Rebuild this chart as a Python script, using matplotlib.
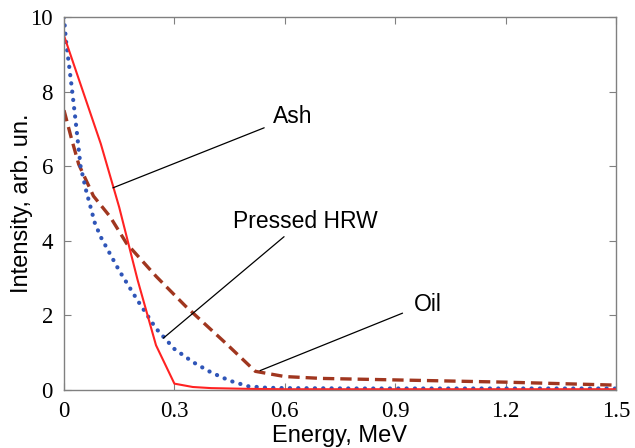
import matplotlib
matplotlib.use('Agg')
import matplotlib.pyplot as plt

plt.rcParams['font.family'] = ['Liberation Serif', 'DejaVu Serif']

# Energy grid (MeV) and intensities
ash_x = [0, 0.05, 0.1, 0.15, 0.2, 0.25, 0.3, 0.35, 0.4, 0.45, 0.5, 0.6, 0.8, 1.0, 1.2, 1.5]
ash_y = [9.5, 8.05, 6.6, 4.9, 2.95, 1.2, 0.17, 0.08, 0.05, 0.04, 0.03, 0.02, 0.02, 0.02, 0.02, 0.02]

hrw_x = [0, 0.005, 0.01, 0.02, 0.03, 0.045, 0.06, 0.084, 0.1, 0.15, 0.2, 0.25, 0.3,
         0.35, 0.4, 0.45, 0.5, 0.55, 0.6, 0.8, 1.0, 1.2, 1.5]
hrw_y = [10, 9.4, 9.0, 8.2, 7.35, 6.0, 5.35, 4.47, 4.1, 3.2, 2.4, 1.65, 1.1,
         0.75, 0.47, 0.25, 0.1, 0.06, 0.05, 0.04, 0.04, 0.04, 0.04]

oil_x = [0, 0.02, 0.04, 0.08, 0.125, 0.17, 0.25, 0.33, 0.44, 0.52, 0.6, 0.7, 0.9, 1.2, 1.5]
oil_y = [7.5, 6.75, 6.05, 5.2, 4.65, 3.93, 3.05, 2.25, 1.25, 0.5, 0.36, 0.31, 0.27, 0.21, 0.13]

x_ticks = [0, 0.3, 0.6, 0.9, 1.2, 1.5]
x_labels = ['0', '0.3', '0.6', '0.9', '1.2', '1.5']
y_ticks = [0, 2, 4, 6, 8, 10]
y_labels = ['0', '2', '4', '6', '8', '10']

# label text, point on curve, line end, text position
notes = [
    ('Ash', (0.133, 5.42), (0.544, 7.03), (0.569, 7.33)),
    ('Pressed HRW', (0.27, 1.39), (0.598, 4.11), (0.46, 4.51)),
    ('Oil', (0.533, 0.52), (0.920, 2.06), (0.952, 2.28)),
]

fig = plt.figure(figsize=(6.35, 4.48), dpi=100)
ax = fig.add_axes([0.1008, 0.1295, 0.8692, 0.8325])

ax.plot(oil_x, oil_y, color='#a0361f', lw=2.4, linestyle=(0, (3.4, 1.8)))
ax.plot(hrw_x, hrw_y, color='#2f55b8', lw=3.0, linestyle=(0, (0.05, 1.95)),
        dash_capstyle='round')
ax.plot(ash_x, ash_y, color='#ff2222', lw=1.5)

for label, tip, end, pos in notes:
    ax.annotate('', xy=tip, xytext=end,
                arrowprops=dict(arrowstyle='-', lw=0.9, color='black',
                                shrinkA=0, shrinkB=0))
    ax.text(pos[0], pos[1], label, fontsize=16.5, family='Liberation Sans',
            va='center', ha='left')

ax.set_xlim(0, 1.5)
ax.set_ylim(0, 10)
ax.set_xticks(x_ticks)
ax.set_xticklabels(x_labels, fontsize=16.5)
ax.set_yticks(y_ticks)
ax.set_yticklabels(y_labels, fontsize=16.5)
ax.tick_params(direction='in', length=5, color='#808080', top=True, right=True,
               pad=8)
for s in ax.spines.values():
    s.set_color('#808080')
    s.set_linewidth(1.0)

ax.set_xlabel('Energy, MeV', fontsize=17, family='Liberation Sans', labelpad=2)
ax.set_ylabel('Intensity, arb. un.', fontsize=17, family='Liberation Sans', labelpad=-2)

fig.savefig('out.png', dpi=100)
